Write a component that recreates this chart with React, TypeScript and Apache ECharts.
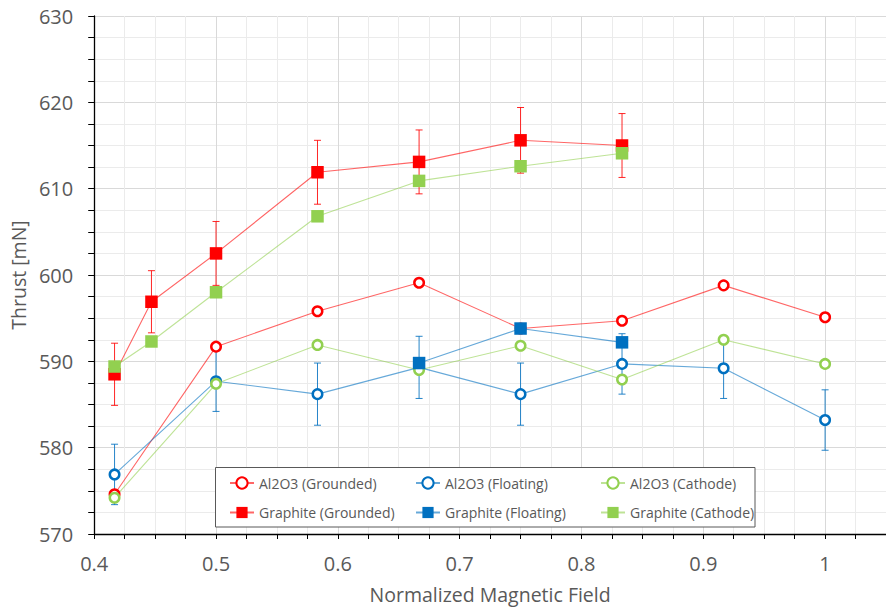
import React, { useEffect, useRef } from "react";
import * as echarts from "echarts";

// ---- data ----
const alX = [0.4167, 0.5, 0.5833, 0.6667, 0.75, 0.8333, 0.9167, 1.0];
const alGrounded = [574.6, 591.7, 595.8, 599.1, 593.8, 594.7, 598.8, 595.1];
const alFloating = [576.9, 587.7, 586.2, 589.3, 586.2, 589.7, 589.2, 583.2];
const alFloatingErr = [3.5, 3.5, 3.6, 3.6, 3.6, 3.5, 3.5, 3.5];
const alCathode = [574.2, 587.4, 591.9, 589.0, 591.8, 587.9, 592.5, 589.7];

const grX = [0.4167, 0.447, 0.5, 0.5833, 0.6667, 0.75, 0.8333];
const grGrounded = [588.5, 596.9, 602.5, 611.9, 613.1, 615.6, 615.0];
const grGroundedErr = [3.6, 3.6, 3.7, 3.7, 3.7, 3.8, 3.7];
const grCathode = [589.4, 592.3, 598.0, 606.8, 610.9, 612.6, 614.1];

const grFloatX = [0.6667, 0.75, 0.8333];
const grFloating = [589.8, 593.8, 592.2];

const legendNames = [
  "Al2O3 (Grounded)",
  "Al2O3 (Floating)",
  "Al2O3 (Cathode)",
  "Graphite (Grounded)",
  "Graphite (Floating)",
  "Graphite (Cathode)",
];

const RED = "#FF0000";
const BLUE = "#0070C0";
const GREEN = "#92D050";
const FONT = "'Open Sans', sans-serif";

const pairs = (xs: number[], ys: number[]) => xs.map((x, i) => [x, ys[i]]);

function lineSeries(name: string, xs: number[], ys: number[], color: string, filled: boolean) {
  return {
    type: "line",
    name,
    data: pairs(xs, ys),
    symbol: filled ? "rect" : "circle",
    symbolSize: filled ? 12.5 : 9.5,
    showSymbol: true,
    lineStyle: { color, width: 1.1, opacity: 0.6 },
    itemStyle: filled
      ? { color, borderWidth: 0 }
      : { color: "#ffffff", borderColor: color, borderWidth: 2.5 },
    emphasis: { disabled: true },
    silent: true,
  };
}

function errSeries(name: string, xs: number[], ys: number[], errs: number[], color: string) {
  return {
    type: "custom",
    name,
    data: xs.map((x, i) => [x, ys[i], errs[i]]),
    encode: { x: 0, y: 1 },
    silent: true,
    renderItem: (_params: any, api: any) => {
      const x = api.value(0);
      const y = api.value(1);
      const e = api.value(2);
      const top = api.coord([x, y + e]);
      const bot = api.coord([x, y - e]);
      const cap = 3.5;
      const st = { stroke: color, lineWidth: 1, opacity: 0.85 };
      return {
        type: "group",
        children: [
          { type: "line", shape: { x1: top[0], y1: top[1], x2: bot[0], y2: bot[1] }, style: st },
          { type: "line", shape: { x1: top[0] - cap, y1: top[1], x2: top[0] + cap, y2: top[1] }, style: st },
          { type: "line", shape: { x1: bot[0] - cap, y1: bot[1], x2: bot[0] + cap, y2: bot[1] }, style: st },
        ],
      };
    },
  };
}

const legendCols = [229, 415, 600];
const legendRows = [476, 505.5];

export default function App() {
  const ref = useRef<HTMLDivElement>(null);
  useEffect(() => {
    if (!ref.current) return;
    const chart = echarts.init(ref.current, undefined, { renderer: "svg" });
    const option: any = {
      animation: false,
      backgroundColor: "#ffffff",
      grid: { left: 93.5, right: -4, top: 16, bottom: 75 },
      xAxis: {
        type: "value",
        min: 0.4,
        max: 1.05,
        interval: 0.1,
        name: "Normalized Magnetic Field",
        nameLocation: "middle",
        nameGap: 50,
        nameTextStyle: { fontFamily: FONT, fontSize: 19.5, color: "#595959" },
        axisLine: { show: true, lineStyle: { color: "#000", width: 1.3 } },
        axisTick: { show: true, length: 5, lineStyle: { color: "#000" } },
        minorTick: { show: true, splitNumber: 4, length: 5, lineStyle: { color: "#000" } },
        axisLabel: {
          showMaxLabel: false,
          margin: 19,
          fontFamily: FONT,
          fontSize: 20,
          color: "#595959",
          formatter: (v: number) => String(Math.round(v * 10) / 10),
        },
        splitLine: { show: true, lineStyle: { color: "#d9d9d9", width: 1 } },
        minorSplitLine: { show: true, lineStyle: { color: "#ebebeb", width: 1 } },
      },
      yAxis: {
        type: "value",
        min: 570,
        max: 630,
        interval: 10,
        name: "Thrust [mN]",
        nameLocation: "middle",
        nameGap: 58,
        nameTextStyle: { fontFamily: FONT, fontSize: 19.5, color: "#595959" },
        axisLine: { show: true, lineStyle: { color: "#000", width: 1.3 } },
        axisTick: { show: true, length: 6, lineStyle: { color: "#000" } },
        minorTick: { show: true, splitNumber: 4, length: 6, lineStyle: { color: "#000" } },
        axisLabel: { margin: 21, fontFamily: FONT, fontSize: 20, color: "#595959" },
        splitLine: { show: true, lineStyle: { color: "#d9d9d9", width: 1 } },
        minorSplitLine: { show: true, lineStyle: { color: "#ebebeb", width: 1 } },
      },
      legend: legendNames.map((n, i) => ({
        data: [n],
        left: legendCols[i % 3],
        top: legendRows[Math.floor(i / 3)],
        padding: 0,
        itemWidth: 24,
        itemHeight: 14,
        selectedMode: false,
        z: 10,
        textStyle: { fontFamily: FONT, fontSize: 14, color: "#595959" },
      })),
      graphic: [
        {
          type: "rect",
          z: 5,
          shape: { x: 215.5, y: 467.5, width: 539.5, height: 59.5 },
          style: { fill: "#ffffff", stroke: "#595959", lineWidth: 1 },
        },
      ],
      series: [
        lineSeries(legendNames[0], alX, alGrounded, RED, false),
        lineSeries(legendNames[1], alX, alFloating, BLUE, false),
        errSeries("alFloatErr", alX, alFloating, alFloatingErr, BLUE),
        lineSeries(legendNames[2], alX, alCathode, GREEN, false),
        lineSeries(legendNames[3], grX, grGrounded, RED, true),
        errSeries("grGroundErr", grX, grGrounded, grGroundedErr, RED),
        lineSeries(legendNames[4], grFloatX, grFloating, BLUE, true),
        lineSeries(legendNames[5], grX, grCathode, GREEN, true),
      ],
    };
    chart.setOption(option);
    return () => chart.dispose();
  }, []);
  return (
    <div
      ref={ref}
      style={{ position: "absolute", left: 0, top: 0, width: 886, height: 609 }}
    />
  );
}
